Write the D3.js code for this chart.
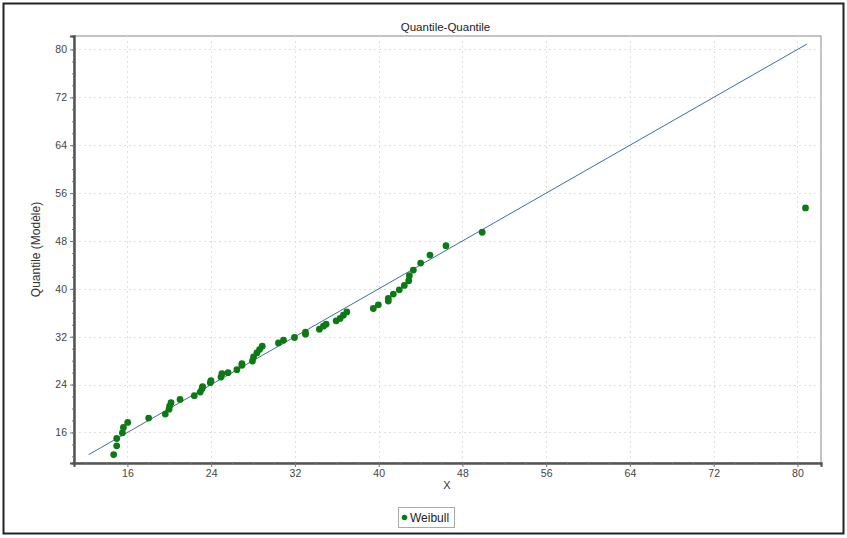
<!DOCTYPE html>
<html lang="fr">
<head>
<meta charset="UTF-8">
<script src="https://d3js.org/d3.v7.min.js"></script>
<title>Quantile-Quantile</title>
<style>
  body { margin: 0; background: #fff; }
  svg { display: block; font-family: "Liberation Sans", Arial, sans-serif; }
</style>
</head>
<body>
<svg width="847" height="538"></svg>
<script>
// observed values (X) and model quantiles (Weibull)
var xValues = [14.69, 14.98, 14.98, 15.52, 15.62, 16.03, 18.03, 19.62, 19.98, 20.03,
               20.17, 21.03, 22.39, 22.96, 23.13, 23.18, 23.92, 23.98, 24.94, 25.03,
               25.61, 26.46, 26.94, 26.94, 27.95, 28.05, 28.37, 28.62, 28.88, 30.43,
               30.91, 31.96, 33.01, 33.01, 34.34, 34.72, 34.98, 35.94, 36.32, 36.63,
               36.96, 39.49, 39.97, 40.92, 40.92, 41.40, 41.97, 42.45, 42.87, 42.93,
               43.31, 44.01, 44.90, 46.43, 49.89, 80.77];
var yValues = [12.31, 13.77, 14.99, 15.95, 16.84, 17.68, 18.40, 19.07, 19.90, 20.41,
               20.98, 21.53, 22.15, 22.75, 23.32, 23.66, 24.33, 24.66, 25.26, 25.83,
               26.00, 26.50, 27.22, 27.51, 27.94, 28.62, 29.29, 29.85, 30.41, 30.96,
               31.41, 31.87, 32.42, 32.75, 33.26, 33.76, 34.09, 34.65, 35.05, 35.60,
               36.15, 36.72, 37.33, 37.95, 38.40, 39.12, 39.84, 40.58, 41.35, 42.19,
               43.14, 44.31, 45.65, 47.21, 49.46, 53.53];
var refLine = [12.3, 80.9];
var majorTicks = [16, 24, 32, 40, 48, 56, 64, 72, 80];
var minorTicks = d3.range(12, 82, 2);
var seriesName = "Weibull";

var svg = d3.select("svg");
var pLeft = 74, pRight = 821, pTop = 36, pBottom = 463;

// outer frame
svg.append("rect").attr("x", 3.5).attr("y", 3.5).attr("width", 840).attr("height", 530)
  .attr("fill", "#fff").attr("stroke", "#222").attr("stroke-width", 2);

var x = d3.scaleLinear().domain([10.9, 82.25]).range([pLeft, pRight]);
var y = d3.scaleLinear().domain([10.9, 82.25]).range([pBottom, pTop]);

// plot background + border
svg.append("rect").attr("x", pLeft).attr("y", pTop).attr("width", pRight - pLeft).attr("height", pBottom - pTop)
  .attr("fill", "#fff").attr("stroke", "#888").attr("stroke-width", 1);

// grid
var grid = svg.append("g").attr("stroke", "#e0e0e0").attr("stroke-dasharray", "2,3");
grid.selectAll(".gx").data(majorTicks).enter().append("line")
  .attr("x1", d => Math.round(x(d)) + 0.5).attr("x2", d => Math.round(x(d)) + 0.5)
  .attr("y1", pTop).attr("y2", pBottom);
grid.selectAll(".gy").data(majorTicks).enter().append("line")
  .attr("y1", d => Math.round(y(d)) + 0.5).attr("y2", d => Math.round(y(d)) + 0.5)
  .attr("x1", pLeft).attr("x2", pRight);

// axes
var xAxis = svg.append("g").attr("transform", "translate(0," + pBottom + ")")
  .call(d3.axisBottom(x).tickValues(majorTicks).tickSize(4).tickPadding(3));
var xMinor = svg.append("g").attr("transform", "translate(0," + pBottom + ")")
  .call(d3.axisBottom(x).tickValues(minorTicks).tickSize(2).tickFormat(""));
var yAxis = svg.append("g").attr("transform", "translate(" + pLeft + ",0)")
  .call(d3.axisLeft(y).tickValues(majorTicks).tickSize(4).tickPadding(3));
var yMinor = svg.append("g").attr("transform", "translate(" + pLeft + ",0)")
  .call(d3.axisLeft(y).tickValues(minorTicks).tickSize(2).tickFormat(""));

[xAxis, yAxis, xMinor, yMinor].forEach(function(a) {
  a.selectAll(".domain").attr("stroke", "#555").attr("stroke-width", 2);
  a.selectAll(".tick line").attr("stroke", "#777");
  a.selectAll("text").attr("font-size", 10.5).attr("fill", "#444")
    .attr("font-family", "Liberation Sans, Arial, sans-serif");
});

// reference line y = x
svg.append("line")
  .attr("x1", x(refLine[0])).attr("y1", y(refLine[0]))
  .attr("x2", x(refLine[1])).attr("y2", y(refLine[1]))
  .attr("stroke", "#3f6f9c").attr("stroke-width", 1);

// points
svg.append("g").selectAll("circle")
  .data(d3.zip(xValues, yValues)).enter().append("circle")
  .attr("cx", d => x(d[0])).attr("cy", d => y(d[1])).attr("r", 3.4)
  .attr("fill", "#0b7a12");

// title and labels
svg.append("text").attr("x", (pLeft + pRight) / 2 - 2).attr("y", 31).attr("text-anchor", "middle")
  .attr("font-size", 11.5).attr("fill", "#222").text("Quantile-Quantile");
svg.append("text").attr("x", (pLeft + pRight) / 2 - 0.5).attr("y", 489).attr("text-anchor", "middle")
  .attr("font-size", 11).attr("fill", "#333").text("X");
svg.append("text").attr("transform", "translate(40," + (pTop + pBottom) / 2 + ") rotate(-90)")
  .attr("text-anchor", "middle").attr("font-size", 12).attr("fill", "#333").text("Quantile (Modèle)");

// legend
var lg = svg.append("g").attr("transform", "translate(398,507)");
lg.append("rect").attr("x", 0.5).attr("y", 0.5).attr("width", 56).attr("height", 20)
  .attr("fill", "#fff").attr("stroke", "#aaa");
lg.append("circle").attr("cx", 6.5).attr("cy", 10.5).attr("r", 2.8).attr("fill", "#0b7a12");
lg.append("text").attr("x", 12).attr("y", 15).attr("font-size", 12).attr("fill", "#222").text(seriesName);
</script>
</body>
</html>
